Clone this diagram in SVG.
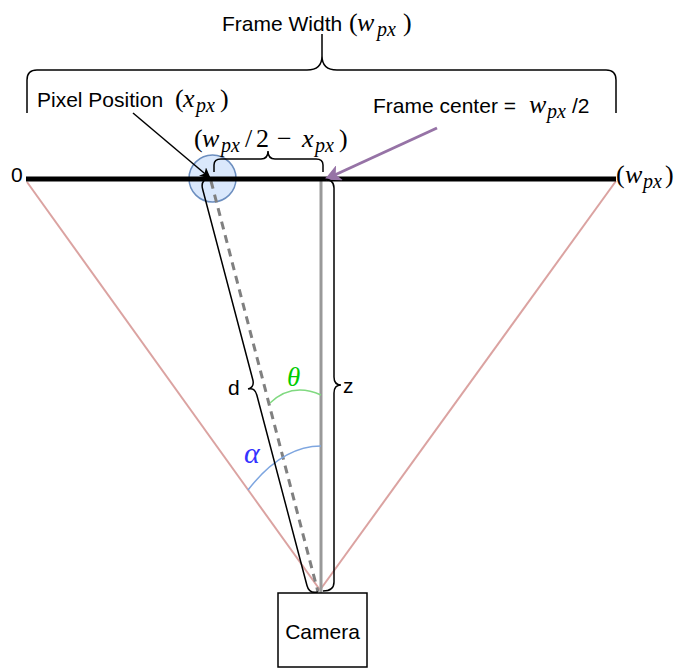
<svg xmlns="http://www.w3.org/2000/svg" width="676" height="668" viewBox="0 0 676 668">
<style>
.t{font-family:"Liberation Sans",Arial,sans-serif;font-size:21px;fill:#000}
.m{font-family:"Liberation Serif","Times New Roman",serif;font-size:26px;fill:#000}
.i{font-style:italic}
.s{font-family:"Liberation Serif","Times New Roman",serif;font-style:italic;font-size:20px}
.br{fill:none;stroke:#000;stroke-width:1.5}
.pink{stroke:#dba3a1;stroke-width:2;fill:none}
</style>
<defs>
<marker id="ab" viewBox="0 0 10 10" refX="9" refY="5" markerWidth="11" markerHeight="11" markerUnits="userSpaceOnUse" orient="auto"><path d="M0,0 L10,5 L0,10 L2.5,5 Z" fill="#000"/></marker>
<marker id="ap" viewBox="0 0 10 10" refX="9" refY="5" markerWidth="5.5" markerHeight="5.5" orient="auto"><path d="M0,0 L10,5 L0,10 L2.5,5 Z" fill="#9673a6"/></marker>
</defs>
<rect width="676" height="668" fill="#fff"/>

<g id="pixel">
<circle cx="212.5" cy="178.5" r="23.5" fill="#dae8fc" stroke="#6c8ebf" stroke-width="1.5"/>
</g>

<g id="connectors">
<line class="pink" x1="27" y1="182" x2="320" y2="590"/>
<line class="pink" x1="616" y1="181" x2="320" y2="590"/>
<line x1="321" y1="179" x2="321" y2="593" stroke="#999" stroke-width="3"/>
<line x1="211" y1="181" x2="318" y2="592" stroke="#808080" stroke-width="3" stroke-dasharray="8 6"/>
<path d="M270,403 Q292,382 321,395" fill="none" stroke="#80d980" stroke-width="1.5"/>
<path d="M248,490 Q282,446 321,446" fill="none" stroke="#7ea6e0" stroke-width="1.5"/>
</g>

<g id="frame">
<line x1="26" y1="179" x2="616" y2="179" stroke="#000" stroke-width="5"/>
</g>

<g id="arrows">
<line x1="133" y1="113" x2="210" y2="178" stroke="#000" stroke-width="1.5" marker-end="url(#ab)"/>
<line x1="437" y1="128" x2="326" y2="179" stroke="#9673a6" stroke-width="3" marker-end="url(#ap)"/>
</g>

<g id="brace-width">
<path class="br" d="M27,113 L27,80 Q27,70 37,70 L307,70 Q322,70 322,56 L322,34 M322,56 Q322,70 337,70 L606,70 Q616,70 616,80 L616,113"/>
</g>
<g id="brace-offset">
<path class="br" d="M214,172 L214,165 Q214,159 221,159 L261,159 Q268,159 268,151 M268,151 Q268,159 275,159 L316,159 Q323,159 323,165 L323,172"/>
</g>
<g id="brace-d">
<path class="br" transform="translate(209,178) rotate(-14.75)" d="M0,0 Q-9,0 -9,9 L-9,206 Q-9,214 -16,214 Q-9,214 -9,222 L-9,419 Q-9,428 0,428"/>
</g>
<g id="brace-z">
<path class="br" d="M323,179 Q334,179 334,188 L334,377 Q334,385 341,385 Q334,385 334,393 L334,582 Q334,591 323,591"/>
</g>

<g id="camera">
<rect x="278" y="593" width="89" height="74" fill="#fff" stroke="#000" stroke-width="1.5"/>
<text class="t" x="322.5" y="639" text-anchor="middle">Camera</text>
</g>

<g id="labels">
<text class="t" x="222" y="31">Frame Width </text>
<text class="m"><tspan x="349" y="31">(</tspan><tspan class="i" x="357" y="31">w</tspan><tspan class="s" x="377" y="36">px</tspan><tspan x="403" y="31">)</tspan></text>

<text class="t" x="37" y="107">Pixel Position </text>
<text class="m"><tspan x="175" y="107">(</tspan><tspan class="i" x="183" y="107">x</tspan><tspan class="s" x="196" y="112">px</tspan><tspan x="220" y="107">)</tspan></text>

<text class="t" x="373" y="113">Frame center = </text>
<text class="m i" x="529" y="113">w</text>
<text class="s" x="547" y="118">px</text>
<text class="t" x="572" y="113">/2</text>

<text class="m"><tspan x="194" y="147">(</tspan><tspan class="i" x="202" y="147">w</tspan><tspan class="s" x="221" y="152">px</tspan><tspan x="245" y="147">/</tspan><tspan x="256" y="147">2</tspan><tspan x="277" y="147">−</tspan><tspan class="i" x="302" y="147">x</tspan><tspan class="s" x="315" y="152">px</tspan><tspan x="339" y="147">)</tspan></text>

<text class="t" x="11" y="182">0</text>
<text class="m"><tspan x="616" y="183">(</tspan><tspan class="i" x="625" y="183">w</tspan><tspan class="s" x="643" y="188">px</tspan><tspan x="665" y="183">)</tspan></text>

<text class="t" x="228" y="395">d</text>
<text class="t" x="343" y="393">z</text>
<text class="m i" x="287" y="386" style="fill:#00cc00;font-size:27px">θ</text>
<text class="m i" x="244" y="463" style="fill:#3333ff;font-size:30px">α</text>
</g>
</svg>
